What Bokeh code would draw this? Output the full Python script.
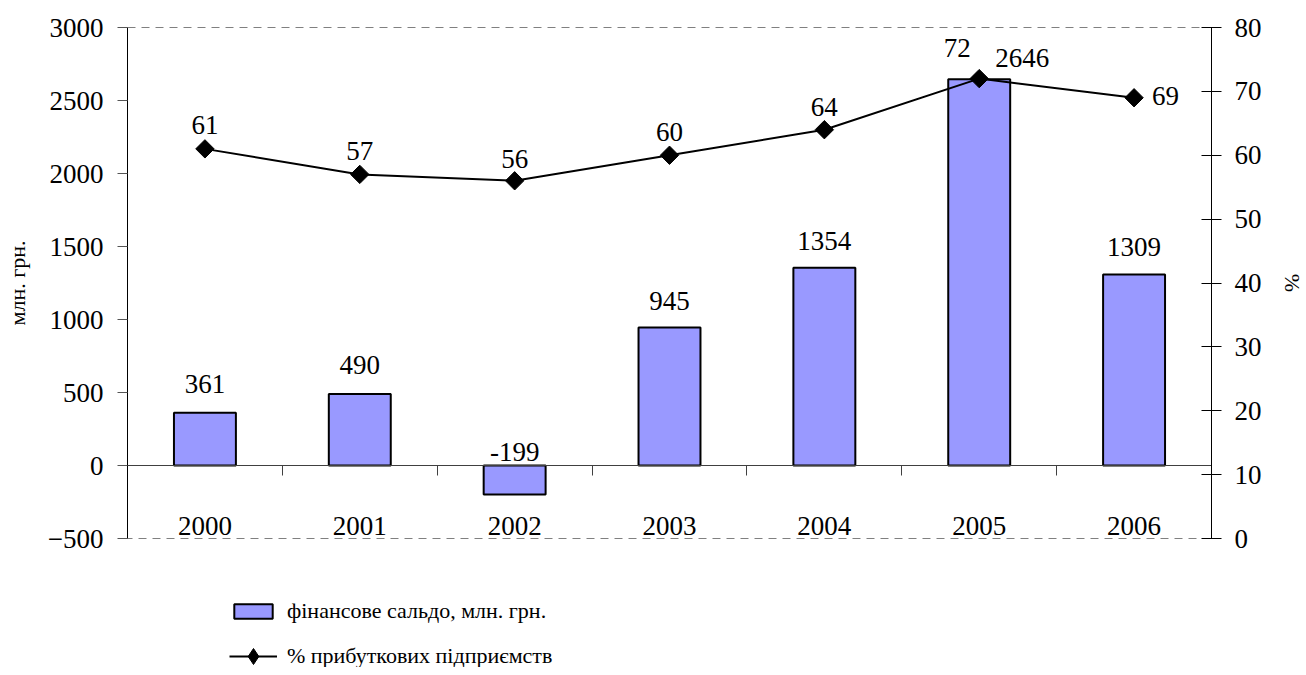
from bokeh.plotting import figure
from bokeh.layouts import column
from bokeh.models import (Range1d, LinearAxis, FixedTicker, ColumnDataSource,
                          Legend, LegendItem)
from bokeh.core.properties import value
from bokeh.embed import file_html
from bokeh.resources import INLINE

# ---- data ----
years = ["2000", "2001", "2002", "2003", "2004", "2005", "2006"]
saldo = [361, 490, -199, 945, 1354, 2646, 1309]
pct = [61, 57, 56, 60, 64, 72, 69]
left_ticks = [-500, 0, 500, 1000, 1500, 2000, 2500, 3000]
right_ticks = [0, 10, 20, 30, 40, 50, 60, 70, 80]
left_title = "млн. грн."
right_title = "%"
bar_name = "фінансове сальдо, млн. грн."
line_name = "% прибуткових підприємств"

# ---- label placement (styling) ----
bar_dx = [0, 0, 0, 0, 0, 43, 0]
bar_dy = [-29, -29, -14, -27, -27, -21, -27]
pct_dx = [0, 0, 0, 0, 0, -22, 18]
pct_dy = [-24, -23, -22, -23, -23, -31, -2]
pct_align = ["center"] * 6 + ["left"]
pct_base = ["alphabetic"] * 6 + ["middle"]

BAR_FILL = "#9999FF"
FONT = value("Liberation Serif")
n = len(years)
xpos = [i + 0.5 for i in range(n)]

p = figure(frame_width=1084, frame_height=511, output_backend="svg",
           toolbar_location=None,
           x_range=Range1d(0, n), y_range=Range1d(left_ticks[0], left_ticks[-1]),
           x_axis_location=None)
p.extra_y_ranges = {"pct": Range1d(right_ticks[0], right_ticks[-1])}
p.min_border_left = 127
p.min_border_right = 84
p.min_border_top = 27
p.min_border_bottom = 25
p.grid.grid_line_color = None
p.outline_line_color = "#808080"
p.outline_line_dash = "8 6"
p.outline_line_width = 1
p.background_fill_color = "white"
p.border_fill_color = "white"

# left axis
ya = p.yaxis[0]
ya.ticker = FixedTicker(ticks=left_ticks)
ya.major_tick_in = 0
ya.major_tick_out = 10
ya.minor_tick_line_color = None
ya.axis_line_color = "black"
ya.major_tick_line_color = "#555555"
ya.major_label_text_font = "Liberation Serif"
ya.major_label_text_font_size = "27px"
ya.major_label_text_color = "black"
ya.major_label_standoff = 14
ya.axis_label = left_title
ya.axis_label_text_font = "Liberation Serif"
ya.axis_label_text_font_size = "22px"
ya.axis_label_text_font_style = "normal"
ya.axis_label_text_color = "black"
ya.axis_label_standoff = 15

# right axis
ra = LinearAxis(y_range_name="pct", ticker=FixedTicker(ticks=right_ticks))
ra.major_tick_in = 10
ra.major_tick_out = 10
ra.minor_tick_line_color = None
ra.axis_line_color = "black"
ra.major_tick_line_color = "black"
ra.major_label_text_font = "Liberation Serif"
ra.major_label_text_font_size = "27px"
ra.major_label_text_color = "black"
ra.major_label_standoff = 13
ra.axis_label = right_title
ra.axis_label_text_font = "Liberation Serif"
ra.axis_label_text_font_size = "22px"
ra.axis_label_text_font_style = "normal"
ra.axis_label_text_color = "black"
ra.axis_label_standoff = 15
p.add_layout(ra, "right")

# category labels axis (near bottom)
la = LinearAxis(ticker=FixedTicker(ticks=xpos),
                major_label_overrides={x: y for x, y in zip(xpos, years)})
la.axis_line_color = None
la.major_tick_line_color = None
la.minor_tick_line_color = None
la.major_tick_in = 0
la.major_tick_out = 0
la.major_label_standoff = -22
la.major_label_text_font = "Liberation Serif"
la.major_label_text_font_size = "27px"
la.major_label_text_color = "black"
p.add_layout(la, "below")

# zero line axis with ticks between categories
zt = list(range(n + 1))
za = LinearAxis(ticker=FixedTicker(ticks=zt), fixed_location=0,
                major_label_overrides={t: "" for t in zt})
za.axis_line_color = "#404040"
za.major_tick_line_color = "#404040"
za.minor_tick_line_color = None
za.major_tick_in = 0
za.major_tick_out = 10
za.major_label_text_alpha = 0
za.major_label_text_font_size = "1px"
za.major_label_standoff = 0
p.add_layout(za, "below")

# bars
bsrc = ColumnDataSource(dict(x=xpos, top=saldo,
                             ly=[max(v, 0) for v in saldo],
                             lt=[str(v) for v in saldo],
                             dx=bar_dx, dy=bar_dy))
p.vbar(x="x", top="top", bottom=0, width=0.4, source=bsrc,
       fill_color=BAR_FILL, line_color="black", line_width=2)

# line
lsrc = ColumnDataSource(dict(x=xpos, y=pct, lt=[str(v) for v in pct],
                             dx=pct_dx, dy=pct_dy, al=pct_align, bl=pct_base))
p.line(x="x", y="y", source=lsrc, y_range_name="pct",
       line_color="black", line_width=2)
p.scatter(x="x", y="y", source=lsrc, y_range_name="pct", marker="square",
          size=13, angle=0.785398, fill_color="black", line_color="black")

# labels
p.text(x="x", y="ly", text="lt", source=bsrc, x_offset="dx", y_offset="dy",
       text_font=FONT, text_font_size="27px", text_color="black",
       text_align="center", text_baseline="alphabetic")
p.text(x="x", y="y", text="lt", source=lsrc, y_range_name="pct",
       x_offset="dx", y_offset="dy", text_align="al", text_baseline="bl",
       text_font=FONT, text_font_size="27px", text_color="black")

# ---- legend strip below (hidden renderers, only their legend swatches show) ----
lp = figure(width=1299, height=104, output_backend="svg", toolbar_location=None,
            x_range=Range1d(0, n), y_range=Range1d(0, 1),
            x_axis_location=None, y_axis_location=None)
lp.min_border = 0
lp.outline_line_color = None
lp.grid.grid_line_color = None
lb = lp.vbar(x="x", top="top", bottom=0, width=0.4, source=bsrc,
             fill_color=BAR_FILL, line_color="black", line_width=2,
             visible=False)
ll = lp.line(x="x", y="y", source=lsrc, line_color="black", line_width=2,
             visible=False)
lm = lp.scatter(x="x", y="y", source=lsrc, marker="diamond", size=16,
                fill_color="black", line_color="black", visible=False)

common = dict(orientation="vertical", glyph_width=48, label_standoff=10,
              spacing=0, padding=0, margin=0, border_line_color=None,
              background_fill_alpha=0, inactive_fill_alpha=0,
              label_text_font="Liberation Serif",
              label_text_font_size="22px", label_text_color="black",
              label_height=26)
leg1 = Legend(items=[LegendItem(label=bar_name, renderers=[lb])],
              location=(102, 43), glyph_height=18, **common)
leg2 = Legend(items=[LegendItem(label=line_name, renderers=[ll, lm])],
              location=(102, -9), glyph_height=40, **common)
lp.add_layout(leg1, "center")
lp.add_layout(leg2, "center")

layout = column(p, lp, spacing=0)
open("out.html", "w").write(file_html(layout, INLINE))
